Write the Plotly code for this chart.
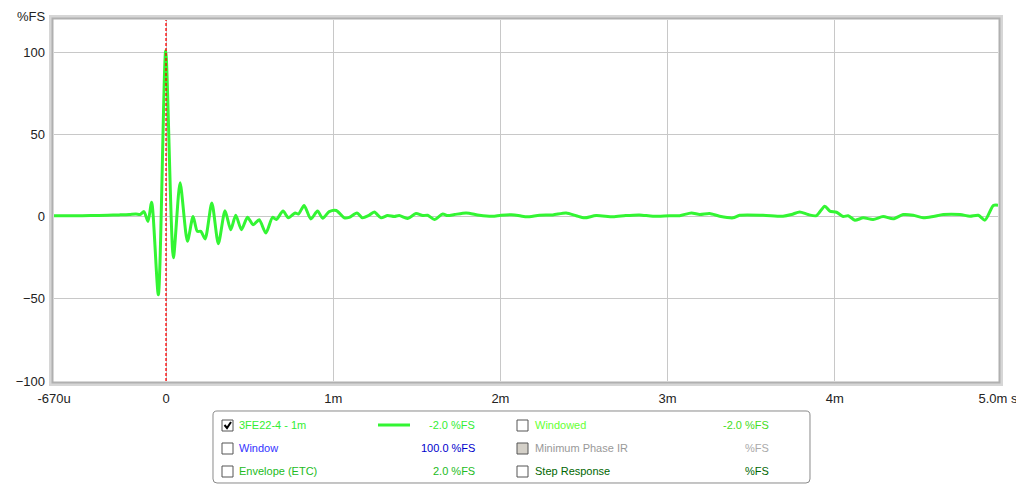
import plotly.graph_objects as go

# impulse response, time in ms, level in %FS
time_ms = [-0.67, -0.55, -0.45, -0.35, -0.28, -0.22, -0.18, -0.155, -0.132, -0.108, -0.086,
           -0.046, -0.002, 0.044, 0.084, 0.128, 0.162, 0.187, 0.208, 0.234, 0.274, 0.313,
           0.353, 0.387, 0.417, 0.451, 0.487, 0.521, 0.557, 0.597, 0.637, 0.660, 0.700,
           0.732, 0.772, 0.792, 0.826, 0.866, 0.906, 0.937, 0.976, 1.018, 1.066, 1.096,
           1.142, 1.175, 1.21, 1.246, 1.286, 1.325, 1.365, 1.395, 1.445, 1.495, 1.535,
           1.565, 1.605, 1.655, 1.684, 1.725, 1.795, 1.874, 1.952, 2.004, 2.084, 2.154,
           2.234, 2.313, 2.393, 2.453, 2.503, 2.573, 2.673, 2.749, 2.832, 2.912, 3.012,
           3.072, 3.142, 3.192, 3.251, 3.311, 3.391, 3.431, 3.571, 3.690, 3.741, 3.790,
           3.840, 3.890, 3.940, 3.970, 4.010, 4.050, 4.080, 4.120, 4.170, 4.229, 4.289,
           4.349, 4.409, 4.469, 4.529, 4.589, 4.649, 4.749, 4.808, 4.858, 4.898, 4.948,
           4.976]
level_fs = [0.5, 0.5, 0.6, 0.8, 1.0, 1.2, 1.5, 1.2, 3.0, -3.0, 8.7,
            -47.6, 100.8, -25.0, 20.5, -15.0, 0.0, -9.0, -9.0, -13.6, 8.3, -16.5,
            3.5, -8.0, 0.8, -8.0, -0.4, -5.0, -2.0, -10.0, -0.5, -1.8, 3.3,
            -0.8, 2.2, 1.5, 6.7, -1.5, 3.3, -1.0, 3.0, 3.7, -0.8, -0.5,
            2.2, -0.8, 0.5, 2.8, -0.8, 0.6, 0.0, 0.6, -1.2, 1.8, 0.6,
            0.8, -1.8, 1.6, 0.6, 1.2, 2.2, 0.8, 0.2, 0.8, 1.0, -0.2,
            0.8, 1.0, 2.2, 0.5, -0.8, 0.6, -0.2, 0.6, 1.0, 0.2, 0.5,
            0.5, 2.2, 1.2, 1.8, 0.2, -0.8, 0.8, 0.8, 0.2, 1.2, 2.8,
            1.2, 0.5, 6.3, 3.3, 2.6, 0.0, 0.5, -2.2, -0.8, -1.8, 0.0,
            -1.4, 1.2, 0.8, -0.8, 0.0, 1.2, 1.2, 0.2, 0.8, -2.2, 6.7,
            6.9]

x_tickvals = [-0.67, 0, 1, 2, 3, 4, 4.976]
x_ticktext = ['-670u', '0', '1m', '2m', '3m', '4m', '5.0m s']
y_tickvals = [-100, -50, 0, 50, 100]

# legend rows: (label, label colour, value, value colour, checked, greyed)
legend_left = [('3FE22-4 - 1m', '#33ee33', '-2.0 %FS', '#33ee33', True, False),
               ('Window', '#3333ff', '100.0 %FS', '#0000cc', False, False),
               ('Envelope (ETC)', '#22bb22', '2.0 %FS', '#22bb22', False, False)]
legend_right = [('Windowed', '#66ff33', '-2.0 %FS', '#44dd22', False, False),
                ('Minimum Phase IR', '#999999', '%FS', '#aaaaaa', False, True),
                ('Step Response', '#006600', '%FS', '#006600', False, False)]

# the page body adds 8px, so the figure is drawn 8px smaller and all
# screen positions below are shifted by OFF
OFF = 8
W, H = 1024 - OFF, 485 - OFF
L, R, T, B = 54 - OFF, 998 - OFF, 20 - OFF, 381 - OFF


def px(x):
    return (x - OFF - L) / (R - L)


def py(y):
    return (B - (y - OFF)) / (B - T)


fig = go.Figure()
fig.add_trace(go.Scatter(x=time_ms, y=level_fs, mode='lines',
                         line=dict(color='#33f533', width=3, shape='spline', smoothing=0.7),
                         hoverinfo='skip', showlegend=False))

shapes = []
# red marker at t=0
shapes.append(dict(type='line', xref='x', yref='paper', x0=0, x1=0, y0=0, y1=1,
                   line=dict(color='#ff0000', width=1.3, dash='3px,2px')))
# frame around plot area (grey with a soft shadow)
shapes.append(dict(type='rect', xref='paper', yref='paper',
                   x0=px(50.5), x1=px(1001.5), y0=py(384.5), y1=py(16.5),
                   line=dict(color='#d6d6d6', width=3)))
shapes.append(dict(type='rect', xref='paper', yref='paper',
                   x0=px(52.5), x1=px(999.5), y0=py(382.5), y1=py(18.5),
                   line=dict(color='#b0b0b0', width=2)))
# legend box with rounded corners
shapes.append(dict(type='path', xref='paper', yref='paper',
                   path='M %f,%f L %f,%f Q %f,%f %f,%f L %f,%f Q %f,%f %f,%f '
                        'L %f,%f Q %f,%f %f,%f L %f,%f Q %f,%f %f,%f Z' % (
                            px(217), py(411), px(806), py(411), px(810), py(411), px(810), py(415),
                            px(810), py(479), px(810), py(483), px(806), py(483),
                            px(217), py(483), px(213), py(483), px(213), py(479),
                            px(213), py(415), px(213), py(411), px(217), py(411)),
                   line=dict(color='#8a8a8a', width=1), fillcolor='white'))

annotations = [dict(text='%FS', xref='paper', yref='paper', x=px(16), y=py(OFF),
                    xanchor='left', yanchor='top', showarrow=False, borderpad=0,
                    font=dict(size=13, color='#222222'))]

row_y = [425, 448, 471]


def add_column(rows, box_x, label_x, value_x):
    for (label, lcol, value, vcol, checked, grey), yy in zip(rows, row_y):
        shapes.append(dict(type='rect', xref='paper', yref='paper',
                           x0=px(box_x), x1=px(box_x + 11), y0=py(yy + 6), y1=py(yy - 5),
                           line=dict(color='#555555', width=1),
                           fillcolor='#d4d0c8' if grey else 'white'))
        if checked:
            shapes.append(dict(type='path', xref='paper', yref='paper',
                               path='M %f,%f L %f,%f L %f,%f' % (
                                   px(box_x + 2.5), py(yy), px(box_x + 5), py(yy + 3),
                                   px(box_x + 9), py(yy - 3)),
                               line=dict(color='#000000', width=2)))
        annotations.append(dict(text=label, xref='paper', yref='paper', x=px(label_x), y=py(yy),
                                xanchor='left', yanchor='middle', showarrow=False,
                                font=dict(size=11, color=lcol)))
        annotations.append(dict(text=value, xref='paper', yref='paper', x=px(value_x), y=py(yy),
                                xanchor='right', yanchor='middle', showarrow=False,
                                font=dict(size=11, color=vcol)))


add_column(legend_left, 222, 237, 477)
add_column(legend_right, 517, 533, 771)

# line sample for the data trace
shapes.append(dict(type='line', xref='paper', yref='paper',
                   x0=px(378), x1=px(410), y0=py(425), y1=py(425),
                   line=dict(color='#33f533', width=3)))

fig.update_layout(
    width=W, height=H,
    margin=dict(l=L, r=W - R, t=T, b=H - B, autoexpand=False),
    paper_bgcolor='white', plot_bgcolor='white',
    font=dict(family='Liberation Sans, Arial, sans-serif', size=13, color='#222222'),
    xaxis=dict(range=[-0.67, 4.976], tickvals=x_tickvals, ticktext=x_ticktext,
               showgrid=True, gridcolor='#c8c8c8', gridwidth=1, zeroline=False,
               showline=False, ticks='', ticklabelstandoff=8, fixedrange=True),
    yaxis=dict(range=[-100, 119.5], tickvals=y_tickvals,
               showgrid=True, gridcolor='#c8c8c8', gridwidth=1, zeroline=False,
               showline=False, ticks='', ticklabelstandoff=8, fixedrange=True),
    shapes=shapes,
    annotations=annotations,
    showlegend=False,
)

fig.write_html('out.html')
